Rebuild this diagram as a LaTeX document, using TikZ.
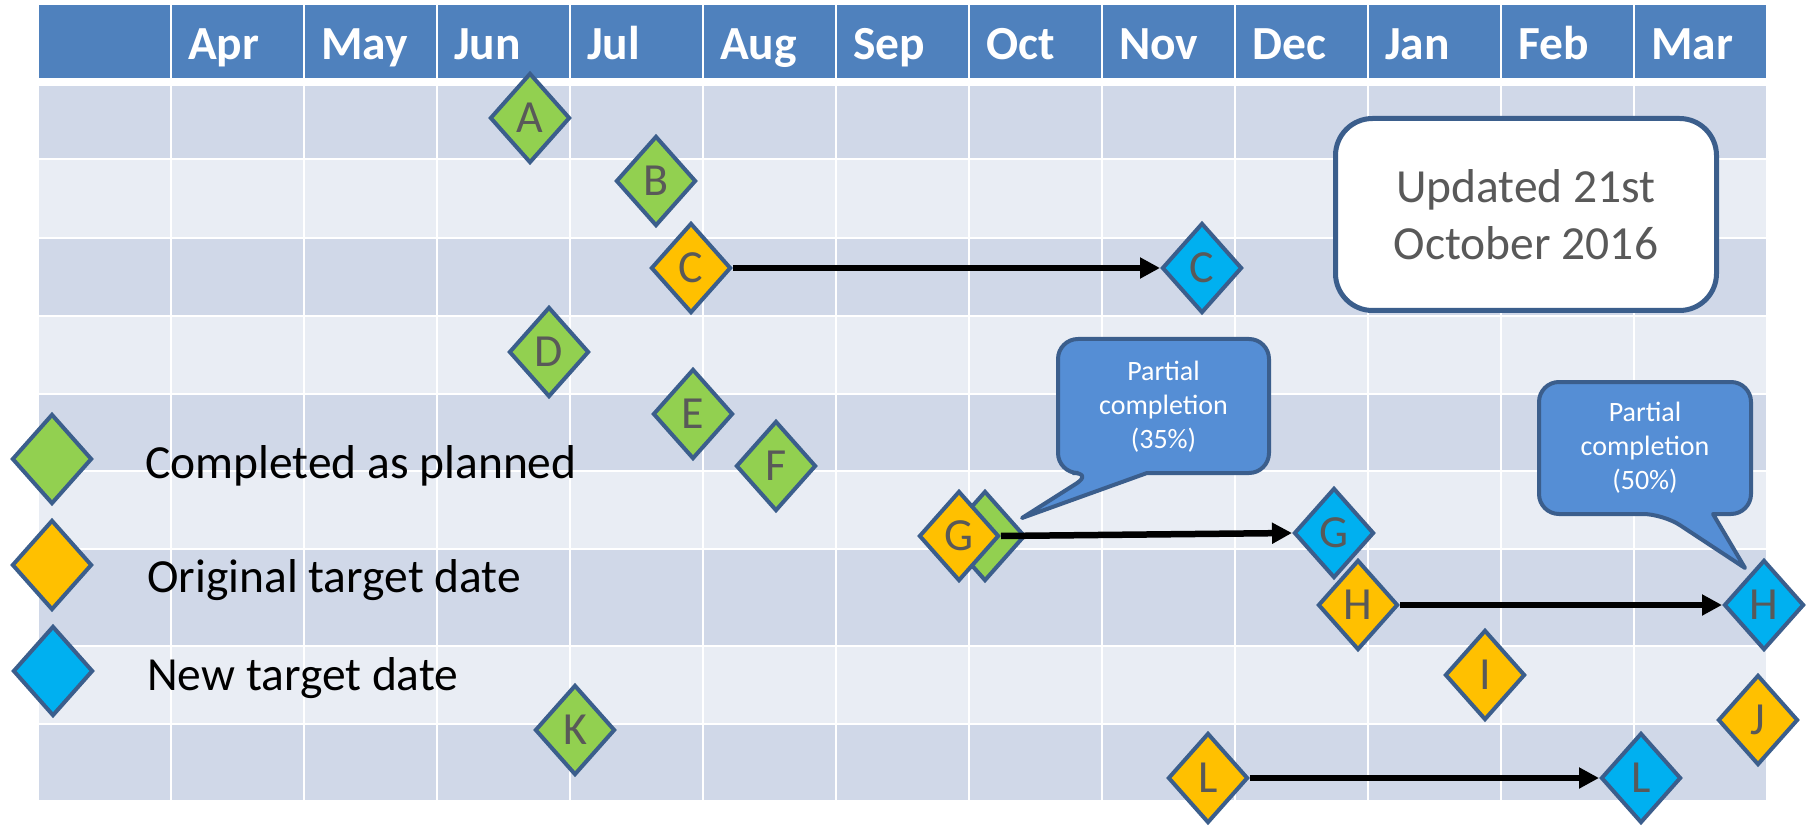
\documentclass[tikz,border=0pt]{standalone}
\usepackage{fontspec}
\setmainfont{Carlito}
\usetikzlibrary{shapes.geometric,arrows.meta}
\definecolor{headblue}{HTML}{4F81BD}
\definecolor{rowdark}{HTML}{D0D8E8}
\definecolor{rowlight}{HTML}{E9EDF4}
\definecolor{frame}{HTML}{3B5E8C}
\definecolor{donegreen}{HTML}{92D050}
\definecolor{origorange}{HTML}{FFC000}
\definecolor{newblue}{HTML}{00B0F0}
\definecolor{callblue}{HTML}{558ED5}
\definecolor{lettergray}{HTML}{595959}

\begin{document}
\begin{tikzpicture}[x=1pt,y=-1pt,
    milestone/.style={diamond, draw=frame, line width=4pt, minimum width=80pt, minimum height=90pt,
      inner sep=0pt, text=lettergray, font=\fontsize{46}{46}\selectfont},
    donemark/.style={milestone, fill=donegreen},
    origmark/.style={milestone, fill=origorange},
    newmark/.style={milestone, fill=newblue},
    slip/.style={-{Triangle[length=20pt,width=20pt]}, line width=6.5pt, black},
    bigtext/.style={font=\fontsize{47.5}{57}\selectfont},
    callline/.style={fill=callblue, draw=frame, line width=4pt, line join=round},
    calltext/.style={text=white, align=center, font=\fontsize{28}{34}\selectfont}]
      \useasboundingbox (0,0) rectangle (1813,826);
      \fill[headblue] (39,5) rectangle (1766,78);
      \foreach \top/\bot/\col in {86/158/rowdark, 160/237/rowlight, 239/315/rowdark, 317/393/rowlight,
          395/470/rowdark, 472/548/rowlight, 550/645/rowdark, 647/723/rowlight, 725/800/rowdark}
        \fill[\col] (39,\top) rectangle (1766,\bot);
      \foreach \i in {0,...,11}
        \draw[white, line width=2.5pt] (171+133*\i,3) -- (171+133*\i,803);
      \foreach \m [count=\i from 0] in {Apr,May,Jun,Jul,Aug,Sep,Oct,Nov,Dec,Jan,Feb,Mar}
        \node[anchor=base west, inner sep=0pt, text=white, font=\fontsize{47.5}{57}\selectfont\bfseries] (m\m) at (188+133*\i,60) {\m};

      \node[donemark] (legdone) at (52,459) {};
      \node[origmark] (legorig) at (52,565) {};
      \node[newmark] (legnew) at (53,671) {};
      \node[bigtext, anchor=base west, inner sep=0pt] (txtdone) at (145,478) {Completed as planned};
      \node[bigtext, anchor=base west, inner sep=0pt] (txtorig) at (147,592) {Original target date};
      \node[bigtext, anchor=base west, inner sep=0pt] (txtnew) at (147,690) {New target date};

      \node[donemark] (A) at (530,118) {A};
      \node[donemark] (B) at (656,181) {B};
      \node[origmark] (C0) at (691,268) {C};
      \node[newmark] (C1) at (1202,268) {C};
      \node[donemark] (D) at (549,352) {D};
      \node[donemark] (E) at (693,414) {E};
      \node[donemark] (F) at (776,466) {F};
      \node[donemark] (Gdone) at (985,536) {};
      \node[origmark] (G0) at (959,536) {G};
      \node[newmark] (G1) at (1334,533) {G};
      \node[origmark] (H0) at (1358,605) {H};
      \node[newmark] (H1) at (1764,605) {H};
      \node[origmark] (I) at (1485,675) {I};
      \node[origmark] (J) at (1758,720) {J};
      \node[donemark] (K) at (575,730) {K};
      \node[origmark] (L0) at (1208,778) {L};
      \node[newmark] (L1) at (1641,778) {L};

      \draw[slip] (C0.east) -- (C1.west);
      \draw[slip] (G0.east) -- (G1.west);
      \draw[slip] (H0.east) -- (H1.west);
      \draw[slip] (L0.east) -- (L1.west);

      \node[draw=frame, fill=white, line width=5pt, rounded corners=37pt, minimum width=381pt, minimum height=192pt,
        text=lettergray, align=center, bigtext] (updated) at (1526,214.5) {Updated 21st\\October 2016};

      \path[callline] (1147,473) [rounded corners=20pt] -- (1269,473) -- (1269,339) -- (1058,339) -- (1058,473)
        -- (1093,473) [sharp corners] -- (1022,518) -- cycle;
      \node[calltext] (part35) at (1163.5,407) {Partial\\completion\\(35\%)};
      \path[callline] (1713,514) [rounded corners=20pt] -- (1751,514) -- (1751,382) -- (1539,382) -- (1539,514)
        -- (1663,514) [sharp corners] -- (1745,568) -- cycle;
      \node[calltext] (part50) at (1645,448) {Partial\\completion\\(50\%)};
\end{tikzpicture}
\end{document}
